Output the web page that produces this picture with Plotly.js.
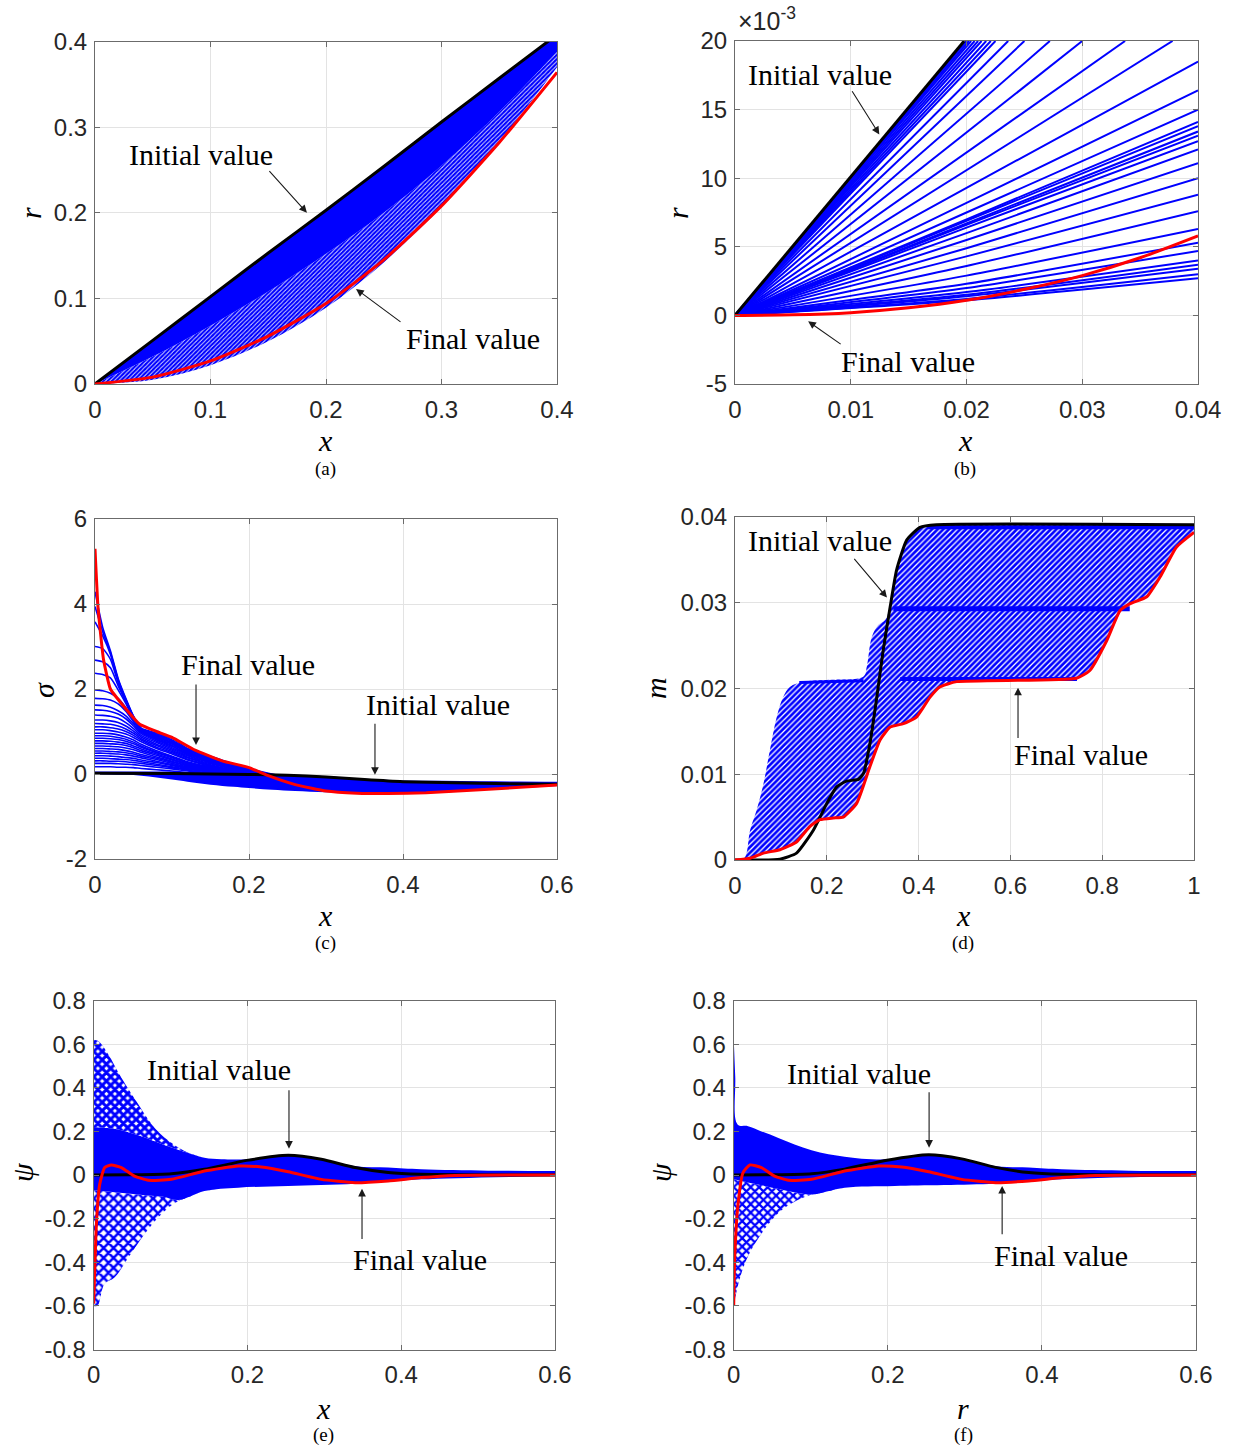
<!DOCTYPE html>
<html><head><meta charset="utf-8">
<script src="https://cdn.plot.ly/plotly-3.0.1.min.js"></script>
<style>body{margin:0;background:#fff}#plot{width:1234px;height:1450px}</style>
</head><body><div id="plot"></div>
<script>
// ---------- (a) r vs x ----------
const aX = [0,0.05,0.1,0.15,0.2,0.25,0.3,0.35,0.4];
const aInitial = [0,0.051,0.102,0.153,0.203,0.254,0.306,0.357,0.408];
const aFinal = [0,0.008,0.027,0.056,0.094,0.145,0.208,0.282,0.364];
const aBlueLow = [0,0.005,0.022,0.05,0.089,0.142,0.207,0.283,0.37];
const aBlueMid = [0,0.032,0.068,0.108,0.152,0.2,0.255,0.318,0.388];
const aTicks = [0,0.1,0.2,0.3,0.4];
const aTickText = ['0','0.1','0.2','0.3','0.4'];

// ---------- (b) r vs x (zoom, x 1e-3) ----------
const bInitialX = [0,0.0198];
const bInitialY = [0,20];
const bTopExitX = [0.0200,0.0202,0.0204,0.0207,0.0210,0.0213,0.0217,0.0221,0.0225,0.0236,0.0250,0.0272,0.0300,0.0337,0.0378];
const bRightEnd = [18.5,16.4,15.0,14.1,13.8,13.4,13.1,12.7,12.1,11.1,10.0,8.8,7.6,6.3,5.3,4.7,4.0,3.7,3.4,3.0,2.7];
const bRightMid = [9.3,8.2,7.5,7.0,6.9,6.7,6.6,6.4,6.0,5.5,4.9,4.3,3.6,2.9,2.3,2.0,1.7,1.5,1.4,1.2,1.1];
const bFinalX = [0,0.005,0.01,0.015,0.02,0.025,0.03,0.035,0.04];
const bFinalY = [0,0.04,0.2,0.55,1.1,1.9,2.9,4.2,5.8];
const bXTicks = [0,0.01,0.02,0.03,0.04];
const bXText = ['0','0.01','0.02','0.03','0.04'];
const bYTicks = [-5,0,5,10,15,20];
const bYText = ['-5','0','5','10','15','20'];

// ---------- (c) sigma vs x ----------
const cFinalX = [0,0.004,0.011,0.02,0.037,0.058,0.08,0.1,0.13,0.165,0.2,0.225,0.26,0.3,0.34,0.38,0.43,0.5,0.6];
const cFinalY = [5.3,3.9,2.7,2.0,1.6,1.17,1.0,0.86,0.56,0.31,0.15,-0.04,-0.25,-0.40,-0.45,-0.46,-0.44,-0.37,-0.26];
const cInitialX = [0,0.1,0.2,0.25,0.3,0.35,0.4,0.5,0.6];
const cInitialY = [0.02,0.01,-0.01,-0.03,-0.07,-0.13,-0.18,-0.22,-0.24];
const cBandX = [0,0.02,0.04,0.06,0.08,0.1,0.12,0.15,0.18,0.2,0.23,0.26,0.3,0.35,0.4,0.45,0.5,0.55,0.6];
const cBandTop = [0.06,0.06,0.06,0.06,0.06,0.06,0.05,0.04,0.03,0.02,0.0,-0.02,-0.05,-0.11,-0.15,-0.16,-0.17,-0.175,-0.18];
const cBandBottom = [0,-0.01,-0.02,-0.04,-0.08,-0.13,-0.18,-0.25,-0.3,-0.33,-0.37,-0.4,-0.43,-0.45,-0.46,-0.44,-0.38,-0.33,-0.28];
const cCurveX = [0,0.01,0.02,0.03,0.04,0.05,0.06,0.08,0.1,0.12,0.15,0.2,0.25];
const cCurves = [
  [4.29,3.45,2.9,2.25,1.78,1.36,1.08,0.96,0.84,0.6,0.42,0.12,-0.08],
  [3.94,3.35,2.86,2.22,1.76,1.35,1.07,0.94,0.8,0.58,0.4,0.11,-0.09],
  [3.58,3.25,2.82,2.2,1.74,1.34,1.06,0.92,0.78,0.56,0.38,0.1,-0.1],
  [3.0,2.95,2.7,2.15,1.72,1.33,1.05,0.9,0.76,0.55,0.36,0.09,-0.11],
  [2.68,2.64,2.5,2.08,1.7,1.32,1.04,0.88,0.74,0.53,0.34,0.08,-0.12],
  [2.37,2.34,2.26,1.98,1.66,1.3,1.03,0.86,0.72,0.51,0.33,0.07,-0.12],
  [1.98,1.96,1.9,1.78,1.56,1.27,1.02,0.84,0.7,0.5,0.31,0.06,-0.13],
  [1.78,1.77,1.74,1.65,1.48,1.23,1.0,0.82,0.67,0.48,0.3,0.05,-0.13],
  [1.62,1.61,1.57,1.49,1.37,1.18,0.98,0.8,0.65,0.47,0.29,0.04,-0.14],
  [1.51,1.5,1.47,1.41,1.3,1.13,0.95,0.77,0.62,0.45,0.27,0.035,-0.145],
  [1.39,1.38,1.36,1.31,1.21,1.07,0.91,0.74,0.59,0.43,0.26,0.03,-0.15],
  [1.27,1.27,1.25,1.21,1.13,1.01,0.87,0.7,0.56,0.4,0.24,0.02,-0.155],
  [1.19,1.18,1.17,1.13,1.06,0.96,0.83,0.67,0.53,0.38,0.22,0.01,-0.16],
  [1.11,1.11,1.09,1.06,1.0,0.91,0.8,0.63,0.5,0.35,0.2,0.0,-0.165],
  [1.04,1.04,1.02,0.99,0.94,0.86,0.76,0.6,0.47,0.33,0.18,-0.01,-0.17],
  [0.96,0.96,0.95,0.92,0.87,0.8,0.7,0.55,0.42,0.29,0.16,-0.02,-0.175],
  [0.9,0.9,0.89,0.86,0.82,0.75,0.66,0.52,0.4,0.27,0.15,-0.025,-0.178],
  [0.84,0.84,0.83,0.81,0.77,0.71,0.63,0.5,0.38,0.26,0.14,-0.03,-0.18],
  [0.78,0.78,0.77,0.75,0.72,0.66,0.59,0.47,0.35,0.24,0.12,-0.035,-0.183],
  [0.72,0.72,0.71,0.7,0.67,0.62,0.55,0.44,0.33,0.22,0.11,-0.04,-0.185],
  [0.66,0.66,0.65,0.64,0.61,0.57,0.51,0.4,0.3,0.2,0.1,-0.045,-0.188],
  [0.6,0.6,0.59,0.58,0.55,0.51,0.46,0.37,0.28,0.19,0.09,-0.05,-0.19],
  [0.54,0.54,0.53,0.52,0.5,0.47,0.42,0.34,0.25,0.17,0.07,-0.055,-0.193],
  [0.49,0.49,0.48,0.47,0.45,0.42,0.38,0.3,0.22,0.15,0.06,-0.06,-0.195],
  [0.43,0.43,0.42,0.41,0.39,0.37,0.33,0.27,0.2,0.13,0.05,-0.065,-0.198],
  [0.37,0.37,0.36,0.35,0.34,0.32,0.29,0.23,0.17,0.11,0.04,-0.07,-0.2],
  [0.31,0.31,0.3,0.3,0.29,0.27,0.25,0.2,0.15,0.09,0.02,-0.08,-0.203],
  [0.25,0.25,0.25,0.24,0.23,0.22,0.2,0.16,0.12,0.07,0.01,-0.09,-0.205],
  [0.17,0.17,0.17,0.16,0.16,0.15,0.13,0.1,0.07,0.03,-0.02,-0.1,-0.21]
];
const cXTicks = [0,0.2,0.4,0.6];
const cXText = ['0','0.2','0.4','0.6'];
const cYTicks = [-2,0,2,4,6];
const cYText = ['-2','0','2','4','6'];

// ---------- (d) m vs x ----------
const dInitialX = [0,0.098,0.134,0.171,0.2,0.221,0.243,0.269,0.28,0.294,0.309,0.323,0.338,0.352,0.374,0.403,0.439,1.0];
const dInitialY = [0,0.0001,0.0008,0.0035,0.0066,0.0085,0.0092,0.0094,0.0101,0.0136,0.019,0.0245,0.0295,0.0338,0.0373,0.0388,0.0391,0.0391];
const dFinalX = [0,0.033,0.062,0.098,0.134,0.163,0.185,0.214,0.236,0.265,0.294,0.316,0.338,0.367,0.396,0.425,0.447,0.483,0.744,0.773,0.81,0.839,0.861,0.897,0.926,0.962,1.0];
const dFinalY = [0,0.0002,0.0008,0.0012,0.0021,0.0039,0.0047,0.0049,0.005,0.0066,0.0109,0.014,0.0155,0.0159,0.0167,0.019,0.0202,0.0208,0.0212,0.0221,0.0256,0.0291,0.0299,0.0307,0.033,0.0365,0.0382];
const dBlueTopX = [0,0.02,0.033,0.047,0.062,0.076,0.091,0.105,0.12,0.149,0.2,0.28,0.287,0.298,0.312,0.327,0.338,0.352,0.374,0.403,0.439,1.0];
const dBlueTopY = [0,0.0002,0.0035,0.0058,0.0089,0.0128,0.0167,0.019,0.0202,0.0208,0.021,0.0214,0.0225,0.026,0.0274,0.028,0.0295,0.0338,0.0373,0.0388,0.0391,0.0391];
const dPlateauUpperX = [0.345,0.86];
const dPlateauUpperY = [0.0293,0.0293];
const dPlateauLowerX = [0.36,0.745];
const dPlateauLowerY = [0.0211,0.0211];
const dPlateauTopX = [0.42,1.0];
const dPlateauTopY = [0.0388,0.0388];
const dPlateauLeftX = [0.14,0.28];
const dPlateauLeftY = [0.0207,0.0209];
const dXTicks = [0,0.2,0.4,0.6,0.8,1];
const dXText = ['0','0.2','0.4','0.6','0.8','1'];
const dYTicks = [0,0.01,0.02,0.03,0.04];
const dYText = ['0','0.01','0.02','0.03','0.04'];

// ---------- (e) psi vs x ----------
const eInitialX = [0,0.05,0.101,0.144,0.199,0.253,0.296,0.34,0.383,0.426,0.6];
const eInitialY = [0,0.001,0.006,0.026,0.067,0.09,0.072,0.034,0.011,0.003,0];
const eFinalX = [0,0.0035,0.0078,0.0143,0.023,0.036,0.053,0.071,0.101,0.144,0.188,0.218,0.253,0.296,0.34,0.383,0.426,0.47,0.6];
const eFinalY = [-0.59,-0.226,-0.043,0.034,0.046,0.034,-0.005,-0.024,-0.02,0.018,0.041,0.037,0.015,-0.02,-0.035,-0.027,-0.012,-0.002,0];
const eUpX = [0,0.006,0.019,0.036,0.058,0.079,0.101,0.123,0.144,0.166,0.199,0.22,0.253,0.296,0.34,0.383,0.426,0.513,0.6];
const eUpY = [0.62,0.614,0.553,0.446,0.324,0.217,0.148,0.102,0.079,0.072,0.072,0.08,0.09,0.072,0.04,0.034,0.026,0.02,0.018];
const eLoX = [0,0.005,0.014,0.027,0.045,0.066,0.088,0.11,0.144,0.188,0.253,0.34,0.426,0.6];
const eLoY = [-0.6,-0.6,-0.5,-0.47,-0.379,-0.272,-0.18,-0.119,-0.073,-0.058,-0.05,-0.04,-0.02,-0.005];
const eCoreTopX = [0,0.03,0.06,0.09,0.12,0.144,0.166,0.199,0.22,0.253,0.296,0.34,0.383,0.426,0.513,0.6];
const eCoreTopY = [0.22,0.21,0.18,0.14,0.104,0.079,0.072,0.072,0.08,0.09,0.072,0.04,0.034,0.026,0.02,0.018];
const eCoreBotX = [0,0.03,0.06,0.09,0.11,0.144,0.188,0.253,0.34,0.426,0.6];
const eCoreBotY = [-0.07,-0.08,-0.09,-0.1,-0.115,-0.073,-0.058,-0.05,-0.04,-0.02,-0.005];

// ---------- (f) psi vs r ----------
const fInitialX = [0,0.05,0.101,0.144,0.199,0.253,0.296,0.34,0.383,0.426,0.6];
const fInitialY = [0,0.001,0.006,0.027,0.068,0.093,0.074,0.035,0.011,0.003,0];
const fFinalX = [0,0.0013,0.0056,0.012,0.021,0.036,0.053,0.071,0.101,0.144,0.188,0.218,0.253,0.296,0.34,0.383,0.426,0.47,0.6];
const fFinalY = [-0.6,-0.38,-0.134,0.01,0.046,0.034,-0.005,-0.024,-0.02,0.018,0.041,0.037,0.015,-0.02,-0.035,-0.027,-0.012,-0.002,0];
const fUpX = [0,0.002,0.005,0.0186,0.036,0.058,0.079,0.101,0.123,0.144,0.166,0.2,0.22,0.253,0.296,0.34,0.383,0.426,0.513,0.6];
const fUpY = [0.63,0.45,0.232,0.224,0.2,0.17,0.14,0.113,0.095,0.084,0.075,0.072,0.08,0.093,0.074,0.04,0.034,0.026,0.02,0.018];
const fLoX = [0,0.006,0.014,0.027,0.045,0.066,0.101,0.144,0.209,0.339,0.426,0.6];
const fLoY = [-0.6,-0.5,-0.41,-0.318,-0.226,-0.15,-0.089,-0.058,-0.05,-0.04,-0.02,-0.005];
const fCoreBotX = [0,0.02,0.04,0.06,0.08,0.101,0.144,0.209,0.339,0.426,0.6];
const fCoreBotY = [-0.02,-0.035,-0.05,-0.065,-0.08,-0.089,-0.058,-0.05,-0.04,-0.02,-0.005];

const eXTicks = [0,0.2,0.4,0.6];
const eXText = ['0','0.2','0.4','0.6'];
const eYTicks = [-0.8,-0.6,-0.4,-0.2,0,0.2,0.4,0.6,0.8];
const eYText = ['-0.8','-0.6','-0.4','-0.2','0','0.2','0.4','0.6','0.8'];

// ---------- drawing ----------
const BLUE = '#0000ff', RED = '#ff0000', BLACK = '#000000';
const LW = 3;
const traces = [];
function axn(k){ return k===1 ? '' : String(k); }
function line(k, x, y, color, w, extra){
  const t = {type:'scatter', mode:'lines', x:x, y:y, xaxis:'x'+axn(k), yaxis:'y'+axn(k),
    line:{color:color, width:w}, hoverinfo:'skip', showlegend:false};
  return Object.assign(t, extra||{});
}
function band(k, lx, ly, ux, uy, fillOpts, shape){
  traces.push(line(k, lx, ly, 'rgba(0,0,0,0)', 0, {line:{width:0, shape:shape||'linear'}}));
  traces.push(line(k, ux, uy, 'rgba(0,0,0,0)', 0, Object.assign({fill:'tonexty', line:{width:0, shape:shape||'linear'}}, fillOpts)));
}
function pat(shape, size, sol){
  return {fillcolor:'#ffffff', fillpattern:{shape:shape, fgcolor:BLUE, bgcolor:'#ffffff', size:size, solidity:sol}};
}
function smooth(color, w, s){ return {line:{color:color, width:w, shape:'spline', smoothing:s}}; }

// (a)
band(1, aX, aBlueLow, aX, aBlueMid, pat('/', 3, 0.75), 'spline');
band(1, aX, aBlueMid, aX, aInitial, {fillcolor:BLUE}, 'spline');
traces.push(line(1, aX, aInitial, BLACK, LW, smooth(BLACK, LW, 0.6)));
traces.push(line(1, aX, aFinal, RED, LW, smooth(RED, LW, 0.6)));

// (b)
bTopExitX.forEach(function(xe){ traces.push(line(2, [0, xe], [0, 20], BLUE, 2)); });
bRightEnd.forEach(function(ye, i){ traces.push(line(2, [0, 0.02, 0.04], [0, bRightMid[i], ye], BLUE, 2, smooth(BLUE, 2, 0.6))); });
traces.push(line(2, bInitialX, bInitialY, BLACK, LW));
traces.push(line(2, bFinalX, bFinalY, RED, LW, smooth(RED, LW, 0.6)));

// (c)
band(3, cBandX, cBandBottom, cBandX, cBandTop, {fillcolor:BLUE}, 'spline');
cCurves.forEach(function(cy){ traces.push(line(3, cCurveX, cy, BLUE, 1.6, smooth(BLUE, 1.6, 0.6))); });
traces.push(line(3, cInitialX, cInitialY, BLACK, LW, smooth(BLACK, LW, 0.6)));
traces.push(line(3, cFinalX, cFinalY, RED, LW, smooth(RED, LW, 0.4)));

// (d)
band(4, dFinalX, dFinalY, dBlueTopX, dBlueTopY, pat('/', 4, 0.68), 'spline');
traces.push(line(4, dPlateauUpperX, dPlateauUpperY, BLUE, 5));
traces.push(line(4, dPlateauLowerX, dPlateauLowerY, BLUE, 4));
traces.push(line(4, dPlateauTopX, dPlateauTopY, BLUE, 4));
traces.push(line(4, dPlateauLeftX, dPlateauLeftY, BLUE, 3));
traces.push(line(4, dInitialX, dInitialY, BLACK, LW, smooth(BLACK, LW, 0.5)));
traces.push(line(4, dFinalX, dFinalY, RED, LW, smooth(RED, LW, 0.5)));

// (e)
band(5, eLoX, eLoY, eCoreBotX, eCoreBotY, pat('x', 7, 0.6), 'spline');
band(5, eCoreBotX, eCoreBotY, eCoreTopX, eCoreTopY, {fillcolor:BLUE}, 'spline');
band(5, eCoreTopX, eCoreTopY, eUpX, eUpY, pat('x', 6, 0.75), 'spline');
traces.push(line(5, eInitialX, eInitialY, BLACK, LW, smooth(BLACK, LW, 0.6)));
traces.push(line(5, eFinalX, eFinalY, RED, LW, smooth(RED, LW, 0.5)));

// (f)
band(6, fLoX, fLoY, fCoreBotX, fCoreBotY, pat('x', 6, 0.6), 'spline');
band(6, fCoreBotX, fCoreBotY, fUpX, fUpY, {fillcolor:BLUE}, 'spline');
traces.push(line(6, fInitialX, fInitialY, BLACK, LW, smooth(BLACK, LW, 0.6)));
traces.push(line(6, fFinalX, fFinalY, RED, LW, smooth(RED, LW, 0.5)));

// ---------- layout ----------
const W = 1234, H = 1450;
function axis(px0, px1, range, tv, tt, anchor, isY){
  const d = isY ? [1 - px1 / H, 1 - px0 / H] : [px0 / W, px1 / W];
  return {domain:d, range:range, tickmode:'array', tickvals:tv, ticktext:tt, anchor:anchor,
    showgrid:true, gridcolor:'#e3e3e3', gridwidth:1, zeroline:false,
    showline:true, linecolor:'#6b6b6b', linewidth:1, mirror:'ticks',
    ticks:'inside', ticklen:5, tickcolor:'#6b6b6b', ticklabelstandoff: isY ? 2 : 4,
    tickfont:{family:'Liberation Sans, Arial, sans-serif', size:24, color:'#262626'}, fixedrange:true};
}
const serif = 'Liberation Serif, Times New Roman, serif';
const ann = [];
function ptext(px, py, txt, size, angle){
  ann.push({xref:'paper', yref:'paper', x:px / W, y:1 - py / H, text:txt, showarrow:false,
    xanchor:'center', yanchor:'middle', textangle:angle||0, font:{family:serif, size:size, color:'#000'}});
}
function dtext(k, x, y, txt){
  ann.push({xref:'x'+axn(k), yref:'y'+axn(k), x:x, y:y, text:txt, showarrow:false,
    xanchor:'center', yanchor:'middle', font:{family:serif, size:30, color:'#000'}});
}
function arrow(k, tx, ty, hx, hy){
  ann.push({xref:'x'+axn(k), yref:'y'+axn(k), axref:'x'+axn(k), ayref:'y'+axn(k),
    x:hx, y:hy, ax:tx, ay:ty, text:'', showarrow:true, arrowhead:2, arrowsize:1.4,
    arrowwidth:1.1, arrowcolor:'#1a1a1a', standoff:0, startstandoff:0});
}
// axis titles
ptext(325, 441, '<i>x</i>', 30); ptext(30, 213, '<i>r</i>', 30, -90);
ptext(965, 441, '<i>x</i>', 30); ptext(677, 213, '<i>r</i>', 30, -90);
ptext(325, 915, '<i>x</i>', 30); ptext(43, 690, '<i>σ</i>', 30, -90);
ptext(963, 915, '<i>x</i>', 30); ptext(655, 688, '<i>m</i>', 30, -90);
ptext(323, 1408, '<i>x</i>', 30); ptext(22, 1172, '<i>ψ</i>', 30, -90);
ptext(963, 1408, '<i>r</i>', 30); ptext(660, 1172, '<i>ψ</i>', 30, -90);
// captions
ptext(325, 469, '(a)', 19); ptext(965, 469, '(b)', 19);
ptext(325, 943, '(c)', 19); ptext(963, 943, '(d)', 19);
ptext(323, 1435, '(e)', 19); ptext(963, 1435, '(f)', 19);
// exponent label of (b)
ann.push({xref:'paper', yref:'paper', x:736 / W, y:1 - 37 / H, xanchor:'left', yanchor:'bottom',
  text:'×10<sup>-3</sup>', showarrow:false, font:{family:'Liberation Sans, Arial, sans-serif', size:25, color:'#262626'}});
// in-plot labels and arrows
dtext(1, 0.0918, 0.2678, 'Initial value'); arrow(1, 0.1498, 0.2503, 0.1835, 0.2);
dtext(1, 0.3273, 0.0526, 'Final value'); arrow(1, 0.2658, 0.0713, 0.226, 0.111);
dtext(2, 0.00736, 17.54, 'Initial value'); arrow(2, 0.01004, 16.45, 0.01247, 13.19);
dtext(2, 0.01498, -3.33, 'Final value'); arrow(2, 0.00926, -2.17, 0.00632, -0.43);
dtext(3, 0.1987, 2.565, 'Final value'); arrow(3, 0.1312, 2.14, 0.1312, 0.68);
dtext(3, 0.4455, 1.647, 'Initial value'); arrow(3, 0.3636, 1.22, 0.3636, -0.02);
dtext(4, 0.1852, 0.0373, 'Initial value'); arrow(4, 0.2571, 0.0353, 0.3312, 0.0306);
dtext(4, 0.7538, 0.01228, 'Final value'); arrow(4, 0.6166, 0.01404, 0.6166, 0.0201);
dtext(5, 0.163, 0.483, 'Initial value'); arrow(5, 0.254, 0.395, 0.254, 0.12);
dtext(5, 0.4244, -0.388, 'Final value'); arrow(5, 0.349, -0.30, 0.349, -0.063);
dtext(6, 0.163, 0.465, 'Initial value'); arrow(6, 0.2536, 0.386, 0.2536, 0.125);
dtext(6, 0.4251, -0.37, 'Final value'); arrow(6, 0.3484, -0.279, 0.3484, -0.05);

const layout = {
  width:W, height:H, margin:{l:0, r:0, t:0, b:0}, paper_bgcolor:'#ffffff', plot_bgcolor:'#ffffff',
  showlegend:false, hovermode:false,
  xaxis:  axis(95, 557, [0,0.4], aTicks, aTickText, 'y', false),
  yaxis:  axis(41.5, 384, [0,0.4], aTicks, aTickText, 'x', true),
  xaxis2: axis(735, 1198, [0,0.04], bXTicks, bXText, 'y2', false),
  yaxis2: axis(41, 384, [-5,20], bYTicks, bYText, 'x2', true),
  xaxis3: axis(95, 557, [0,0.6], cXTicks, cXText, 'y3', false),
  yaxis3: axis(519, 859, [-2,6], cYTicks, cYText, 'x3', true),
  xaxis4: axis(735, 1194, [0,1], dXTicks, dXText, 'y4', false),
  yaxis4: axis(517, 860, [0,0.04], dYTicks, dYText, 'x4', true),
  xaxis5: axis(93.7, 555, [0,0.6], eXTicks, eXText, 'y5', false),
  yaxis5: axis(1000.5, 1349.5, [-0.8,0.8], eYTicks, eYText, 'x5', true),
  xaxis6: axis(733.7, 1196, [0,0.6], eXTicks, eXText, 'y6', false),
  yaxis6: axis(1000.5, 1349.5, [-0.8,0.8], eYTicks, eYText, 'x6', true),
  annotations: ann
};
Plotly.newPlot('plot', traces, layout, {staticPlot:true, displayModeBar:false});
</script></body></html>
